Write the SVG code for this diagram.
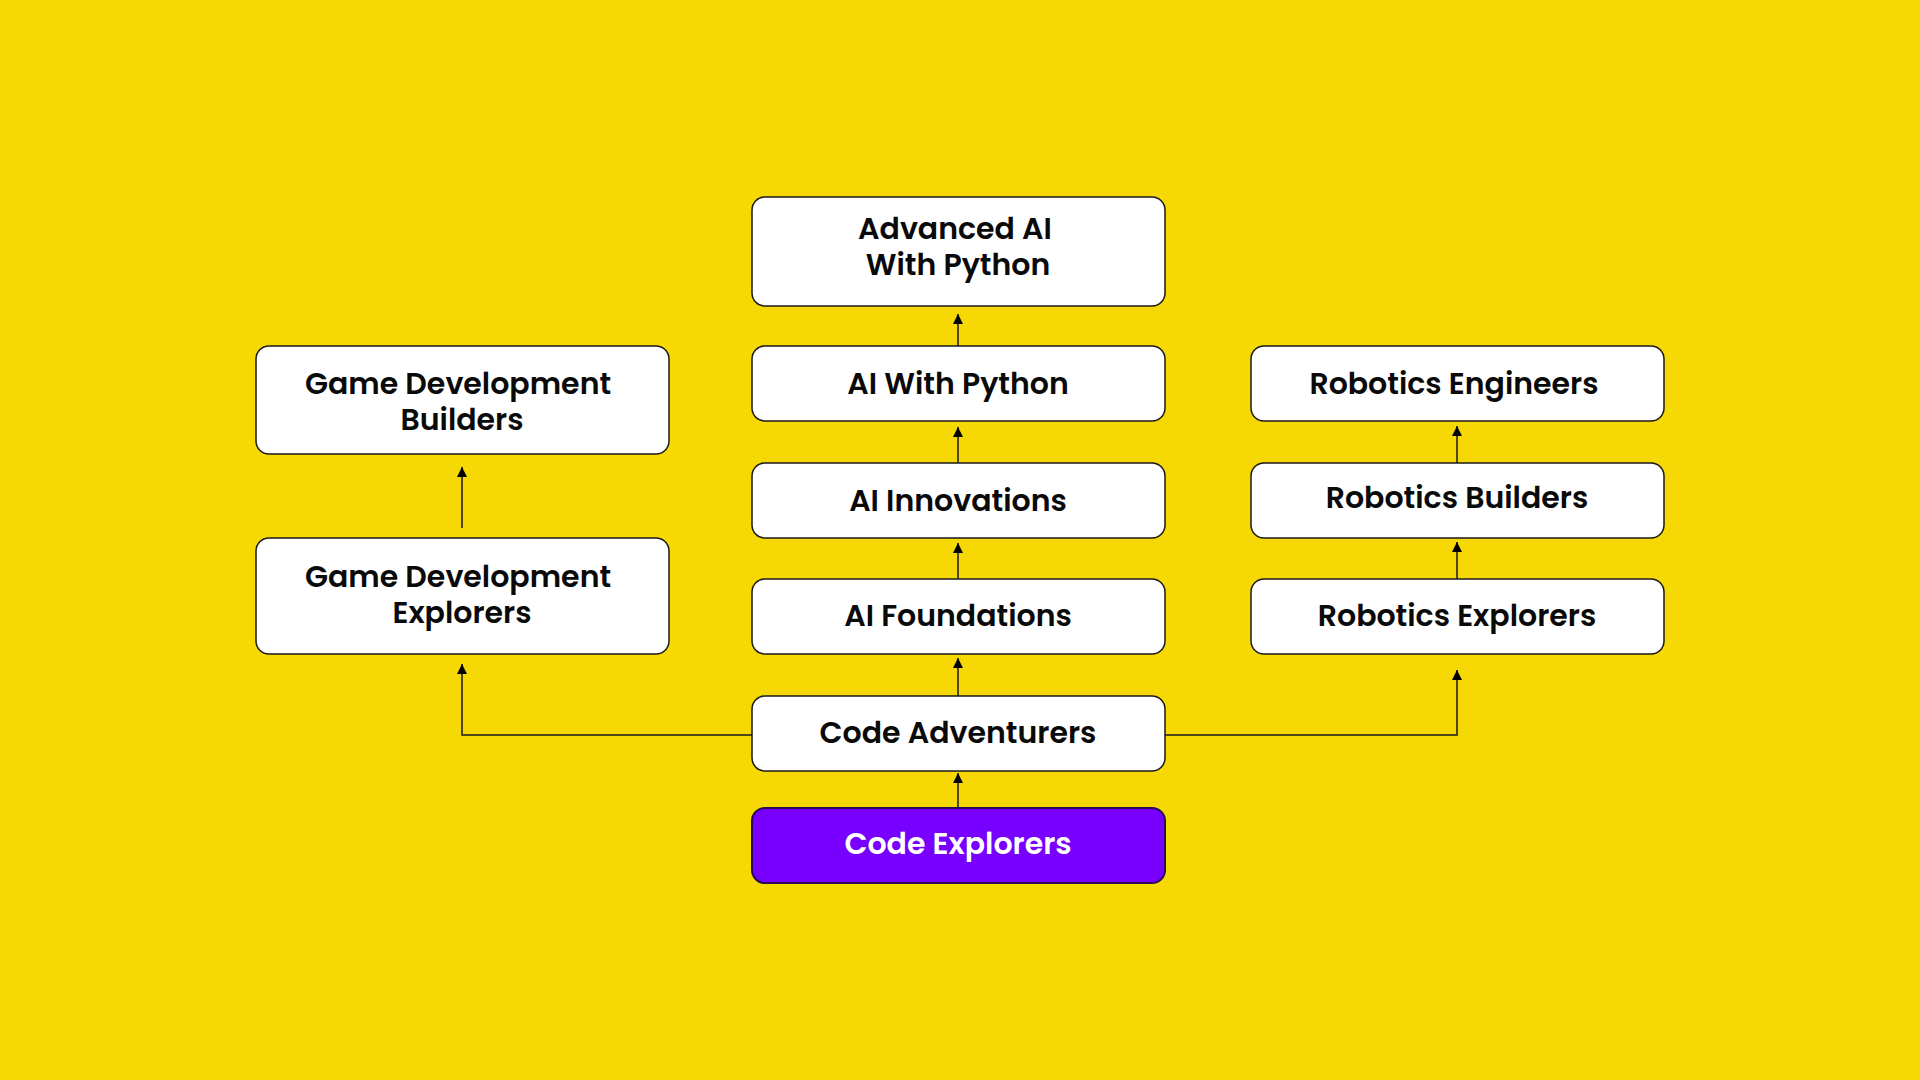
<svg xmlns="http://www.w3.org/2000/svg" width="1920" height="1080" viewBox="0 0 1920 1080">
<style>
.box{fill:#ffffff;stroke:#1a1a1a;stroke-width:1.5}
.hl{fill:#7700ff;stroke:#2a0a55;stroke-width:2}
.t{font-family:"Poppins","Inter","Open Sans",sans-serif;font-weight:600;font-size:30px;fill:#0a0a0a;text-anchor:middle}
.tw{fill:#ffffff}
.c{fill:none;stroke:#1a1a1a;stroke-width:1.5}
</style>
<defs>
<marker id="ah" viewBox="0 0 10 10" refX="10" refY="5" markerWidth="10" markerHeight="10" markerUnits="userSpaceOnUse" orient="auto">
<path d="M0,0 L10,5 L0,10 z" fill="#000"/>
</marker>
</defs>
<rect width="1920" height="1080" fill="#f6d804"/>
<g id="connectors">
<line class="c" x1="958" y1="696" x2="958" y2="658" marker-end="url(#ah)"/>
<line class="c" x1="958" y1="808" x2="958" y2="773" marker-end="url(#ah)"/>
<line class="c" x1="958" y1="579" x2="958" y2="543" marker-end="url(#ah)"/>
<line class="c" x1="958" y1="463" x2="958" y2="427" marker-end="url(#ah)"/>
<line class="c" x1="958" y1="347" x2="958" y2="314" marker-end="url(#ah)"/>
<line class="c" x1="462" y1="528" x2="462" y2="467" marker-end="url(#ah)"/>
<polyline class="c" points="752,735 462,735 462,664" marker-end="url(#ah)"/>
<polyline class="c" points="1165,735 1457,735 1457,670" marker-end="url(#ah)"/>
<line class="c" x1="1457" y1="579" x2="1457" y2="542" marker-end="url(#ah)"/>
<line class="c" x1="1457" y1="463" x2="1457" y2="426" marker-end="url(#ah)"/>
</g>
<g id="advanced-ai">
<rect class="box" x="752" y="197" width="413" height="109" rx="13"/>
<text class="t"><tspan x="955" y="239">Advanced AI</tspan><tspan x="958" y="275">With Python</tspan></text>
</g>
<g id="ai-with-python">
<rect class="box" x="752" y="346" width="413" height="75" rx="13"/>
<text class="t" x="958" y="394">AI With Python</text>
</g>
<g id="ai-innovations">
<rect class="box" x="752" y="463" width="413" height="75" rx="13"/>
<text class="t" x="958" y="511">AI Innovations</text>
</g>
<g id="ai-foundations">
<rect class="box" x="752" y="579" width="413" height="75" rx="13"/>
<text class="t" x="958" y="626">AI Foundations</text>
</g>
<g id="code-adventurers">
<rect class="box" x="752" y="696" width="413" height="75" rx="13"/>
<text class="t" x="958" y="743">Code Adventurers</text>
</g>
<g id="code-explorers">
<rect class="hl" x="752" y="808" width="413" height="75" rx="13"/>
<text class="t tw" x="958" y="854">Code Explorers</text>
</g>
<g id="game-dev-builders">
<rect class="box" x="256" y="346" width="413" height="108" rx="13"/>
<text class="t"><tspan x="458" y="394">Game Development</tspan><tspan x="462" y="430">Builders</tspan></text>
</g>
<g id="game-dev-explorers">
<rect class="box" x="256" y="538" width="413" height="116" rx="13"/>
<text class="t"><tspan x="458" y="587">Game Development</tspan><tspan x="462" y="623">Explorers</tspan></text>
</g>
<g id="robotics-engineers">
<rect class="box" x="1251" y="346" width="413" height="75" rx="13"/>
<text class="t" x="1454" y="394">Robotics Engineers</text>
</g>
<g id="robotics-builders">
<rect class="box" x="1251" y="463" width="413" height="75" rx="13"/>
<text class="t" x="1457" y="508">Robotics Builders</text>
</g>
<g id="robotics-explorers">
<rect class="box" x="1251" y="579" width="413" height="75" rx="13"/>
<text class="t" x="1457" y="626">Robotics Explorers</text>
</g>
</svg>
